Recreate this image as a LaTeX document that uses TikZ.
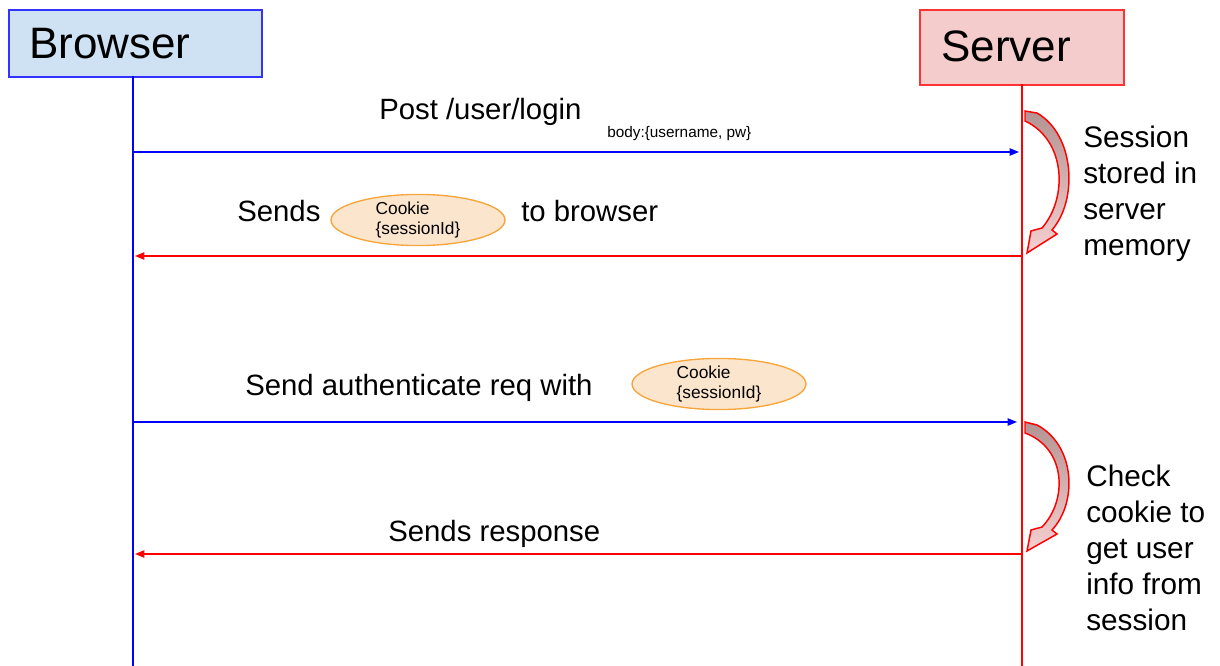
\documentclass[tikz,border=0pt]{standalone}
\usepackage{fontspec}
\setmainfont{Liberation Sans}
\usetikzlibrary{arrows.meta,shapes.geometric}
\definecolor{bfill}{HTML}{CFE2F3}
\definecolor{sfill}{HTML}{F4CCCC}
\definecolor{cfill}{HTML}{FCE5CD}
\definecolor{cedge}{HTML}{F6A53A}
\definecolor{ablue}{HTML}{0000FF}
\definecolor{ared}{HTML}{FF0000}
\definecolor{crtop}{HTML}{B39393}
\definecolor{crbot}{HTML}{F6CFCF}
\tikzset{
  actor/.style={draw, line width=1.2pt, anchor=north west, inner sep=0pt},
  lifeb/.style={ablue, line width=1.1pt},
  lifer/.style={ared, line width=1.1pt},
  msgb/.style={ablue, line width=1pt, -{Triangle[length=7pt,width=5.5pt]}},
  msgr/.style={ared, line width=1pt, -{Triangle[length=7pt,width=5.5pt]}},
  lbl/.style={font=\fontsize{22}{24}\selectfont, anchor=base west, inner sep=0pt},
  side/.style={font=\fontsize{22.3}{27}\selectfont, anchor=north west, align=left, inner sep=0pt},
  small/.style={font=\fontsize{11.5}{13}\selectfont, anchor=base west, inner sep=0pt},
  cookie/.style={draw=cedge, fill=cfill, line width=1pt, ellipse, minimum width=130.5pt, minimum height=36.5pt, inner sep=0pt, align=left, font=\fontsize{13}{15}\selectfont},
  crescent/.style={draw=ared, line width=1.1pt, top color=crtop, bottom color=crbot},
}
\begin{document}
\begin{tikzpicture}[x=0.75pt,y=-0.75pt]
\useasboundingbox (0,0) rectangle (1220,666);
% actors
\node[actor, draw=ablue!80, fill=bfill, minimum width=189.75pt, minimum height=50.25pt] (browser) at (8,9) {};
\node[font=\fontsize{33}{36}\selectfont, anchor=base west, inner sep=0pt] (browserlbl) at (29,59) {Browser};
\node[actor, draw=ared!80, fill=sfill, minimum width=153pt, minimum height=56.25pt] (server) at (919,9) {};
\node[font=\fontsize{33}{36}\selectfont, anchor=base west, inner sep=0pt] (serverlbl) at (941,62) {Server};
% lifelines
\coordinate (bt) at (133,76);
\coordinate (bb) at (133,666);
\coordinate (st) at (1022,84);
\coordinate (sb) at (1022,666);
\draw[lifeb] (bt) -- (bb);
\draw[lifer] (st) -- (sb);
% message points
\coordinate (b1) at (133,152); \coordinate (s1) at (1019,152);
\coordinate (s2) at (1022,256); \coordinate (b2) at (135,256);
\coordinate (b3) at (133,422); \coordinate (s3) at (1017,422);
\coordinate (s4) at (1022,554); \coordinate (b4) at (135,554);
\draw[msgb] (b1) -- (s1);
\draw[msgr] (s2) -- (b2);
\draw[msgb] (b3) -- (s3);
\draw[msgr] (s4) -- (b4);
% labels
\node[lbl] (m1) at (379,120) {Post /user/login};
\node[small] (m1b) at (607,138) {body:\{username, pw\}};
\node[lbl] (m2a) at (237,222) {Sends};
\node[cookie] (c1) at (418,220) {Cookie\\\{sessionId\}};
\node[lbl] (m2b) at (521,222) {to browser};
\node[lbl] (m3) at (245,395) {Send authenticate req with};
\node[cookie] (c2) at (719,384) {Cookie\\\{sessionId\}};
\node[lbl] (m4) at (388,541) {Sends response};
% curved block arrows
\draw[crescent] (1025,111) -- (1037,113)
  .. controls (1075,135) and (1078,200) .. (1052,230)
  -- (1057,234) -- (1027,253) -- (1031,231) -- (1042,228)
  .. controls (1068,198) and (1066,140) .. (1025,121) -- cycle;
\draw[crescent] (1025,422) -- (1037,425)
  .. controls (1075,445) and (1078,502) .. (1052,530)
  -- (1057,534) -- (1027,551) -- (1031,530) -- (1042,527)
  .. controls (1068,500) and (1066,448) .. (1025,433) -- cycle;
% side notes
\node[side] (note1) at (1083,126) {Session\\stored in\\server\\memory};
\node[side] (note2) at (1086,465) {Check\\cookie to\\get user\\info from\\session};
\end{tikzpicture}
\end{document}
